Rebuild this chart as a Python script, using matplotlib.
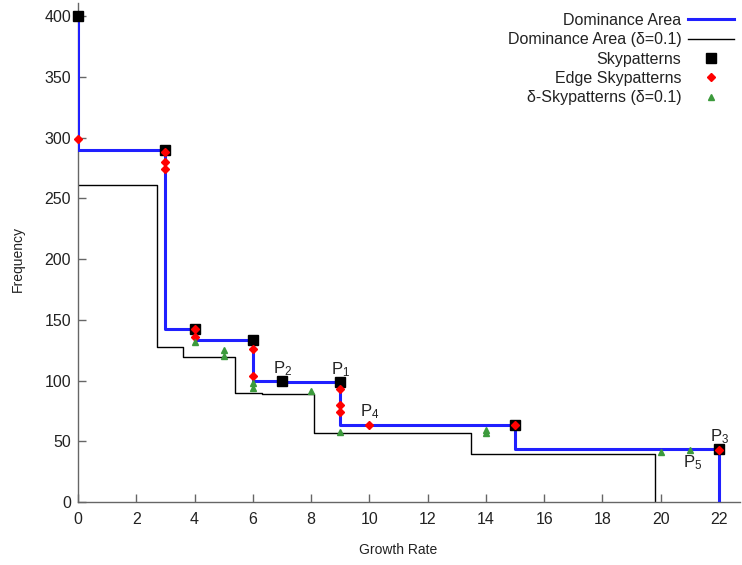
import matplotlib
matplotlib.use('Agg')
import matplotlib.pyplot as plt

plt.rcParams['font.family'] = ['Liberation Sans', 'DejaVu Sans']
plt.rcParams['mathtext.fontset'] = 'custom'
plt.rcParams['mathtext.rm'] = 'Liberation Sans'
plt.rcParams['mathtext.it'] = 'Liberation Sans'

# skypatterns (growth rate, frequency)
sky_x = [0, 3, 4, 6, 7, 9, 15, 22]
sky_y = [400, 290, 142, 133, 100, 98.5, 63, 44]

delta = 0.1

# edge skypatterns
edge_x = [0, 3, 3, 3, 4, 4, 6, 6, 9, 9, 9, 10, 15, 22]
edge_y = [299, 288, 280, 274, 142, 136, 126, 104, 93, 80, 74, 63, 63, 42.5]

# delta-skypatterns (delta=0.1)
dsky_x = [4, 5, 5, 6, 6, 8, 9, 14, 14, 20, 21]
dsky_y = [132, 125, 120, 98, 94, 91, 58, 59, 57, 41, 43]

# point labels
lab_names = ['P$_2$', 'P$_1$', 'P$_4$', 'P$_3$', 'P$_5$']
lab_x = [7, 9, 10, 22, 21]
lab_y = [100, 98.5, 63, 44, 43]
lab_off = [(-9, 3), (-9, 3), (-9, 4), (-9, 3), (-7, -4)]
lab_va = ['bottom', 'bottom', 'bottom', 'bottom', 'top']

fig = plt.figure(figsize=(7.42, 5.65), dpi=100)
ax = fig.add_axes([78 / 742, 63 / 565, (740 - 78) / 742, (562 - 63) / 565])

# dominance area: staircase through the skypatterns
dom_x = sky_x + [sky_x[-1]]
dom_y = sky_y + [0]
ax.plot(dom_x, dom_y, drawstyle='steps-pre', color='#2020ff', lw=2.2,
        label='Dominance Area', zorder=3)

# delta dominance area: skypatterns scaled by (1 - delta)
f = 1 - delta
ddom_x = [0] + [f * v for v in sky_x[1:]] + [f * sky_x[-1]]
ddom_y = [f * sky_y[1]] + [f * v for v in sky_y[1:]] + [0]
ax.plot(ddom_x, ddom_y, drawstyle='steps-pre', color='black', lw=1,
        label='Dominance Area (\u03b4=0.1)', zorder=2)

ax.plot(sky_x, sky_y, 's', color='black', ms=6.5, ls='none',
        label='Skypatterns', zorder=4, clip_on=False)
ax.plot(edge_x, edge_y, 'D', color='#ff0000', ms=4.5, ls='none',
        label='Edge Skypatterns', zorder=5, clip_on=False)
ax.plot(dsky_x, dsky_y, '^', color='#3c9a3c', ms=5, ls='none',
        label='\u03b4-Skypatterns (\u03b4=0.1)', zorder=6, clip_on=False)

for name, x, y, off, va in zip(lab_names, lab_x, lab_y, lab_off, lab_va):
    ax.annotate(name, xy=(x, y), xytext=off, textcoords='offset pixels',
                ha='left', va=va, fontsize=12, color='#222222', zorder=7)

ax.set_xlim(0, 22.72)
ax.set_ylim(0, 410.7)
ax.set_xticks(range(0, 23, 2))
ax.set_yticks(range(0, 401, 50))

for s in ['top', 'right']:
    ax.spines[s].set_visible(False)
for s in ['left', 'bottom']:
    ax.spines[s].set_color('#666666')
    ax.spines[s].set_linewidth(1)

ax.tick_params(direction='in', length=6, width=1, color='#666666',
               labelsize=11.5, labelcolor='#222222')
ax.tick_params(axis='x', pad=7)
ax.tick_params(axis='y', pad=5)

ax.set_xlabel('Growth Rate', fontsize=10, color='#222222', va='center')
ax.set_ylabel('Frequency', fontsize=10, color='#222222', va='center')
ax.xaxis.set_label_coords((398 - 78) / 662, (502 - 550) / 499)
ax.yaxis.set_label_coords((18 - 78) / 662, (502 - 259) / 499)

ax.legend(loc='upper right', bbox_to_anchor=(734 / 742, 1 - 13 / 565),
          bbox_transform=fig.transFigure, frameon=False, markerfirst=False,
          fontsize=11.5, handlelength=2.9, handletextpad=0.4,
          labelspacing=0.27, borderpad=0, borderaxespad=0,
          labelcolor='#222222')

fig.savefig('out.png', dpi=100)
